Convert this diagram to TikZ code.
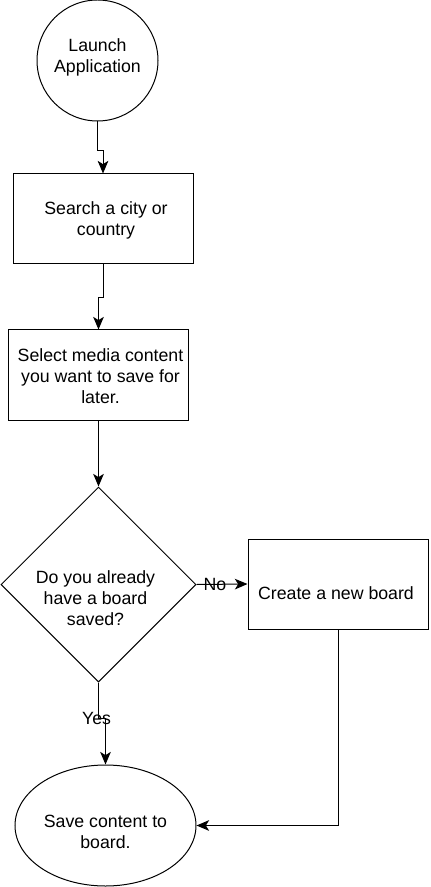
\documentclass[tikz,border=0pt]{standalone}
\usepackage{fontspec}
\setmainfont{Liberation Sans}
\usetikzlibrary{shapes.geometric}
\usetikzlibrary{arrows.meta}

\begin{document}
\begin{tikzpicture}[x=0.75pt,y=0.75pt,yscale=-1,xscale=1,
  every node/.style={font=\fontsize{13.3}{15.8}\selectfont},
  startnode/.style={draw,line width=0.75pt,circle,minimum size=90.75pt,inner sep=0pt,align=center},
  stepbox/.style={draw,line width=0.75pt,rectangle,minimum width=135pt,minimum height=67.5pt,inner sep=0pt,align=center},
  decision/.style={draw,line width=0.75pt,diamond,minimum width=146.25pt,minimum height=146.25pt,inner sep=0pt},
  endnode/.style={draw,line width=0.75pt,ellipse,minimum width=135.75pt,minimum height=90.75pt,inner sep=0pt},
  txt/.style={inner sep=0.75pt,align=center},
  flow/.style={line width=0.75pt,-{Stealth[length=9.5pt,width=8pt,inset=2.5pt]}}]
\useasboundingbox (0,0) rectangle (430,887);

%Shape: Circle
\node[startnode] (launch) at (97.5,60.5) {};
% Text Node
\node[txt] (launch-txt) at (97.5,57.5) {Launch\\Application};
%Shape: Rectangle
\node[stepbox] (search) at (103,219) {};
% Text Node
\node[txt] (search-txt) at (106,220.5) {Search a city or\\country};
%Shape: Rectangle
\node[stepbox] (select) at (98.5,375) {};
% Text Node
\node[txt] (select-txt) at (100.5,376) {Select media content\\you want to save for\\later.};
%Shape: Diamond
\node[decision] (dec) at (98.5,584.5) {};
% Text Node
\node[txt] (dec-txt) at (95.5,598) {Do you already\\have a board\\saved?};
%Shape: Rectangle
\node[stepbox] (create) at (338,584) {};
% Text Node
\node[txt] (create-txt) at (336,593) {Create a new board};
%Shape: Ellipse
\node[endnode] (save) at (105.5,825.5) {};
% Text Node
\node[txt] (save-txt) at (105.5,831.5) {Save content to\\board.};

%Connectors
\draw[flow] (launch.south) -- ++(0,29) -| (search.north);
\draw[flow] (search.south) -- ++(0,33) -| (select.north);
\draw[flow] (select.south) -- (dec.north);
\draw[flow] (dec.east) -- (create.west) node[txt,pos=0.36] (no-lbl) {No};
\draw[flow] (dec.south) -- ++(0,36) node[txt,xshift=-1.5pt] (yes-lbl) {Yes} -| (save.north);
\draw[flow] (create.south) |- (save.east);

\end{tikzpicture}
\end{document}
